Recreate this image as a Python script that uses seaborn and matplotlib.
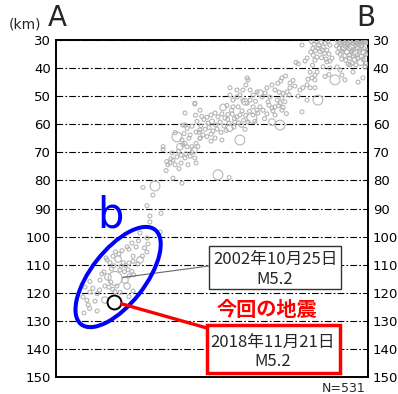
import matplotlib
matplotlib.use("Agg")
import matplotlib.pyplot as plt
import pandas as pd
import seaborn as sns
from matplotlib.patches import Ellipse, Rectangle
from matplotlib.transforms import ScaledTranslation

# Hypocentres projected on the A-B cross-section: distance along the line (km),
# depth (km) and magnitude.
dist_km = [
    # dense cluster near B, shallow end
    93.8, 94.6, 95.4, 96.2, 96.9, 97.5, 98.2, 98.9, 99.6, 100.3,
    101.0, 101.7, 102.4, 103.1, 103.8, 99.0, 102.0,
    93.5, 94.3, 95.1, 95.8, 96.5, 97.2, 97.8, 98.5, 99.2, 99.9,
    100.6, 101.3, 101.9, 102.6, 103.3, 103.9, 100.9, 96.0,
    93.9, 94.7, 95.5, 96.3, 97.0, 97.7, 98.4, 99.1, 99.7, 100.4,
    101.1, 101.8, 102.5, 103.2, 103.8, 98.8,
    95.2, 96.6, 97.8, 98.7, 99.5, 100.6, 101.5, 102.4, 103.3, 103.9,
    97.4, 100.0,
    93.7, 94.7, 95.3, 96.3, 98.0, 99.0, 100.7, 102.3, 103.0, 93.0,
    # second cluster
    85.2, 86.0, 86.8, 87.6, 88.3, 89.1, 89.8, 90.6, 91.3, 85.6,
    86.5, 87.3, 88.0, 88.8, 89.5, 90.3, 91.0, 85.8, 87.0, 88.5,
    90.0, 91.3, 92.0, 86.3, 84.9,
    # scattered events 80-92 km
    82.0, 80.0, 83.7, 83.0, 84.7, 85.3, 84.0, 86.3, 86.3, 87.0,
    83.7, 82.3, 84.7, 86.3, 81.3, 83.7, 87.3, 82.0, 80.7, 89.7,
    91.0, 91.3, 90.3, 89.0, 85.5,
    # band 55-80 km
    75.3, 76.5, 74.9, 73.9, 78.0, 79.0, 78.0, 77.0, 75.7, 77.7,
    75.3, 76.3, 74.7, 75.7, 75.3, 73.7, 73.0, 72.0, 70.7, 71.3,
    73.0, 72.0, 70.3, 69.7, 68.7, 68.0, 67.0, 65.7, 64.7, 64.0,
    63.7, 62.3, 61.3, 60.3, 59.0, 58.0, 59.0, 60.7, 62.3, 63.7,
    64.7, 65.7, 67.0, 68.0, 69.0, 67.3, 65.7, 64.5, 63.2, 62.0,
    61.3, 60.3, 65.3, 66.3, 64.0, 72.0, 74.7, 73.0, 72.3, 74.2,
    61.3, 54.0, 57.7, 80.7, 63.3, 79.6, 74.4, 60.3, 58.0, 63.0,
    70.3, 76.8, 58.8, 59.6, 61.8, 63.0, 69.5, 71.0, 66.5, 57.2,
    # cluster 45-60 km
    48.0, 49.3, 50.3, 51.7, 53.0, 54.0, 55.3, 56.3, 57.3, 48.6,
    50.7, 52.0, 53.3, 54.7, 56.0, 57.7, 48.3, 49.7, 51.0, 52.3,
    53.7, 55.0, 56.7, 47.7, 49.0, 50.3, 51.7, 53.0, 55.3, 51.7,
    48.0, 46.3, 47.0, 55.7, 57.0, 58.5, 59.5, 60.8, 62.5, 57.9,
    59.3, 46.5, 43.0,
    # 35-48 km
    43.0, 45.3, 43.7, 44.7, 46.7, 40.3, 42.0, 43.0, 41.3, 43.7,
    45.3, 46.7, 45.3, 43.3, 41.7, 43.0, 44.7, 46.3, 46.0, 40.3,
    39.0, 38.0, 38.3, 35.7, 35.7, 36.9, 37.3, 39.7, 41.7, 44.0,
    46.7, 48.0, 48.0, 39.0, 42.0, 36.7, 42.3, 44.3, 40.8, 42.7,
    47.3, 38.7, 41.0, 46.3, 42.3, 39.7,
    # 25-35 km
    29.0, 33.0, 32.3, 30.3, 31.3, 31.3, 35.0, 34.7, 28.0, 30.3,
    30.7, 25.3,
    # deep group (region b)
    23.7, 22.0, 21.0, 19.8, 19.0, 17.0, 22.4, 18.0, 19.3, 16.7,
    18.5, 20.7, 21.7, 23.2, 24.3, 25.7, 27.3, 28.0, 28.8, 25.7,
    30.3, 26.7, 24.3, 24.0, 25.3, 25.9, 22.8, 24.4, 21.3, 23.0,
    23.7, 17.3, 18.3, 15.3, 14.7, 16.3, 17.6, 18.9, 20.3, 19.7,
    21.4, 16.3, 11.3, 9.7, 12.3, 11.3, 13.7, 14.5, 9.0, 10.3,
    10.7, 13.0, 9.3, 13.7, 11.2, 24.3, 25.7, 16.0, 27.5, 29.5,
]

depth_km = [
    30.2, 30.9, 30.3, 31.0, 30.1, 30.7, 30.4, 31.2, 30.2, 30.8,
    30.3, 31.1, 30.5, 30.9, 30.2, 30.0, 29.9,
    32.1, 32.8, 31.7, 33.2, 32.3, 31.8, 33.0, 32.1, 33.4, 31.9,
    32.7, 33.3, 32.0, 33.1, 32.4, 33.6, 31.6, 32.6,
    34.4, 35.1, 34.0, 35.6, 34.3, 35.4, 34.1, 35.7, 34.6, 35.3,
    34.0, 35.8, 34.5, 35.2, 34.2, 33.9,
    36.8, 37.3, 36.5, 38.2, 37.0, 36.6, 37.9, 36.9, 38.4, 37.2,
    38.6, 38.9,
    39.6, 40.7, 42.5, 44.2, 38.9, 41.4, 45.0, 43.5, 39.6, 44.2,
    30.6, 31.5, 30.3, 31.9, 30.8, 32.5, 31.2, 30.5, 31.8, 33.0,
    33.8, 32.9, 34.2, 33.5, 34.8, 33.6, 35.0, 35.5, 36.1, 36.3,
    36.8, 37.5, 36.5, 37.2, 34.3,
    31.8, 38.0, 36.4, 37.5, 41.4, 43.5, 44.0, 42.5, 44.2, 41.4,
    46.0, 47.0, 47.0, 47.0, 47.8, 51.4, 51.4, 55.6, 50.0, 43.0,
    42.3, 40.0, 37.8, 39.5, 39.0,
    43.5, 42.8, 44.6, 45.4, 45.3, 44.4, 47.0, 48.5, 49.0, 49.6,
    50.7, 52.0, 52.5, 54.0, 55.0, 51.4, 53.8, 54.2, 52.0, 50.3,
    47.8, 46.0, 47.0, 48.9, 50.3, 48.9, 48.5, 49.6, 47.8, 44.2,
    43.5, 47.8, 49.6, 50.3, 51.4, 47.0, 53.8, 53.8, 51.4, 52.5,
    51.4, 53.8, 55.0, 53.8, 55.0, 56.0, 56.7, 55.4, 56.8, 55.2,
    56.7, 57.4, 57.8, 59.0, 59.2, 59.2, 60.3, 56.7, 55.2, 53.4,
    65.6, 78.0, 79.0, 38.5, 46.0, 46.4, 48.6, 47.8, 49.6, 52.0,
    56.3, 56.2, 56.4, 59.2, 60.4, 61.8, 58.0, 53.2, 51.8, 58.3,
    55.0, 58.3, 57.5, 56.7, 56.0, 57.4, 56.3, 57.8, 56.5, 57.2,
    59.6, 59.0, 60.3, 59.2, 60.6, 59.7, 60.5, 61.8, 61.2, 62.4,
    61.7, 62.9, 62.2, 62.9, 63.8, 64.4, 63.5, 64.9, 65.6, 66.0,
    65.0, 52.5, 59.0, 54.0, 53.3, 55.0, 58.0, 59.5, 58.6, 61.4,
    61.0, 56.8, 56.0,
    60.3, 60.7, 61.5, 63.8, 62.8, 64.5, 65.6, 66.8, 68.0, 68.0,
    68.0, 66.8, 70.0, 70.5, 71.0, 72.0, 71.4, 72.0, 69.3, 71.6,
    72.8, 73.8, 72.3, 68.0, 69.0, 73.3, 74.4, 74.4, 73.8, 74.4,
    73.8, 62.0, 65.0, 79.2, 81.0, 76.5, 67.3, 65.0, 69.6, 63.3,
    67.9, 70.2, 75.8, 52.8, 60.3, 63.0,
    82.5, 82.0, 85.2, 89.0, 92.7, 94.8, 91.7, 98.4, 98.7, 100.5,
    102.6, 102.3,
    103.7, 105.0, 106.2, 105.4, 107.0, 108.3, 109.3, 109.3, 110.4, 107.6,
    111.5, 108.0, 110.6, 110.3, 109.4, 108.8, 109.7, 108.3, 106.9, 107.0,
    105.5, 103.7, 104.5, 111.8, 112.4, 113.6, 112.5, 114.0, 111.9, 115.5,
    117.6, 114.4, 116.2, 113.3, 115.5, 117.6, 118.0, 118.8, 117.6, 119.6,
    119.9, 122.6, 116.0, 118.0, 118.4, 119.8, 120.3, 119.0, 121.5, 122.7,
    124.3, 123.0, 127.2, 126.5, 125.6, 121.4, 119.4, 112.6, 101.5, 104.0,
]

magnitude = [
    2, 2, 2.5, 2, 2, 3, 2, 2, 2.5, 2,
    3, 2, 2, 2.5, 2, 3.5, 3,
    2, 2, 2, 2.5, 2, 2, 2, 3, 2, 2,
    2.5, 2, 2, 2, 3, 2, 2, 3,
    2, 2, 2, 2, 2.5, 2, 2, 2, 3, 2,
    2, 2, 2.5, 2, 2, 2,
    2, 2, 2, 2, 2.5, 2, 3, 2, 2, 3.5,
    2, 2,
    2, 2, 2, 2, 2, 2, 2, 2, 2, 3.5,
    2, 2, 2.5, 2, 2, 2, 2, 2, 2, 2,
    2, 2, 2, 2, 2, 2, 2, 2, 2, 2,
    2, 2, 2, 2, 2,
    2, 2, 2, 2, 2, 2, 2, 2, 2, 2,
    2, 2, 2, 2, 2, 2, 3.5, 2, 2, 2,
    2, 2, 2, 2, 2,
    2, 2, 2, 2, 2, 2, 2, 2, 2, 2,
    2, 2, 2, 2, 2, 2, 2, 2, 2, 2,
    2, 2, 2, 2, 2, 3, 2, 2, 2, 2,
    2, 2, 2, 2, 2, 2, 2, 2, 2, 2,
    2, 2, 2, 2, 2, 2, 2, 2, 2, 2,
    2, 2, 3.5, 2, 2, 3, 3.5, 2, 2, 2,
    3.5, 3.5, 2, 2, 2, 2, 2, 2, 2, 3,
    2, 2, 2, 2, 2, 2, 2, 2, 2, 2,
    2, 2, 2, 2, 2, 2, 2, 2, 2, 2,
    2, 2.5, 2, 2, 2, 2, 2, 2, 2, 2,
    2, 2, 2, 2, 2, 2, 2, 2, 2, 2,
    2, 2, 2, 3, 2, 2, 2, 2, 2, 3,
    2, 2, 2,
    2, 2, 2, 2, 2, 3.5, 2, 2, 3, 2,
    2, 2, 2, 2, 2, 2, 2, 2, 3, 2,
    2, 2, 2, 2, 2, 2, 2, 2, 2, 2,
    2, 2, 2, 2, 2, 2, 2, 2, 2, 2,
    2, 2, 2, 2, 2, 2,
    2, 3.5, 2, 2, 2, 2, 2, 2, 2, 2,
    2, 2,
    2, 2, 2, 2, 2, 2, 2, 2, 2, 2,
    2, 3, 2, 2, 2, 2, 2, 3, 2, 2,
    2, 2, 2, 2, 2, 2, 2, 2, 2, 3,
    3, 3, 2, 2, 2, 2, 2, 2, 2, 2,
    2, 3, 2, 2, 2, 2, 2, 2, 2, 2,
    2, 2, 2, 2, 2, 2, 2, 2, 2, 2,
]

# Highlighted events
EQ2002_DIST, EQ2002_DEPTH, EQ2002_MAG = 19.7, 114.9, 5.2
EQ2002_DATE = "2002年10月25日"
EQ2018_DIST, EQ2018_DEPTH, EQ2018_MAG = 19.4, 123.2, 5.2
EQ2018_DATE = "2018年11月21日"
N_EVENTS = 531

depth_ticks = list(range(30, 151, 10))

# marker area (pt^2) per magnitude class
SIZE_BY_MAG = {2.0: 8, 2.5: 12, 3.0: 22, 3.5: 50, 5.2: 100}

sns.set_theme(style="white")
plt.rcParams["font.family"] = ["DejaVu Sans"]
JP = ["Noto Sans CJK JP", "DejaVu Sans"]

W, H = 398, 394
fig = plt.figure(figsize=(W / 100, H / 100), dpi=100)
ax = fig.add_axes([56 / W, 17 / H, 312 / W, 337 / H])


def fx(px):
    return px / W


def fy(py):
    return 1 - py / H


events = pd.DataFrame({
    "dist": dist_km + [EQ2002_DIST],
    "depth": depth_km + [EQ2002_DEPTH],
    "mag": [float(m) for m in magnitude] + [EQ2002_MAG],
})

sns.scatterplot(data=events, x="dist", y="depth", size="mag",
                sizes=SIZE_BY_MAG, color="#b2b2b2", facecolor="none",
                edgecolor="#b2b2b2", linewidth=0.75, legend=False,
                ax=ax, zorder=3)

sns.scatterplot(x=[EQ2018_DIST], y=[EQ2018_DEPTH],
                s=SIZE_BY_MAG[EQ2018_MAG], color="white", edgecolor="black",
                linewidth=1.4, legend=False, ax=ax, zorder=6)

ax.set_xlim(0, 104)
ax.set_ylim(150, 30)
ax.set_xticks([])
ax.set_yticks(depth_ticks)
ax.set_xlabel("")
ax.set_ylabel("")
ax.yaxis.grid(True, color="black", linewidth=0.8, linestyle=(0, (6, 2, 1.5, 2)))
ax.xaxis.grid(False)
ax.set_axisbelow(True)
ax.tick_params(axis="y", left=True, right=True, labelleft=True,
               labelright=True, length=0, pad=3.5, labelsize=9.5,
               labelcolor="black")
for sp in ax.spines.values():
    sp.set_color("black")
    sp.set_linewidth(1.4)
    sp.set_visible(True)

# region b outline
ell_tr = fig.dpi_scale_trans + ScaledTranslation(20.7, 114.4, ax.transData)
ax.add_patch(Ellipse((0, 0), 1.20, 0.54, angle=52, transform=ell_tr,
                     fill=False, edgecolor="#0000ff", linewidth=2.9, zorder=5))
fig.text(fx(110), fy(227), "b", color="#0000ff", fontsize=30,
         ha="center", va="baseline")

# leader lines
ax.annotate("", xy=(EQ2002_DIST, EQ2002_DEPTH), xycoords="data",
            xytext=(fx(209), fy(266)), textcoords="figure fraction",
            arrowprops=dict(arrowstyle="-", color="#666666", lw=0.8,
                            shrinkA=0, shrinkB=5.5), zorder=4)
ax.annotate("", xy=(EQ2018_DIST, EQ2018_DEPTH), xycoords="data",
            xytext=(fx(207), fy(328)), textcoords="figure fraction",
            arrowprops=dict(arrowstyle="-", color="#ff0000", lw=2.4,
                            shrinkA=0, shrinkB=5.5), zorder=7)

# label boxes
fig.add_artist(Rectangle((fx(209), fy(289)), (341 - 209) / W, (289 - 246) / H,
                         transform=fig.transFigure, facecolor="white",
                         edgecolor="#333333", linewidth=1.0, zorder=2))
fig.text(fx(275), fy(259), EQ2002_DATE, ha="center", va="center",
         fontsize=12, family=JP, zorder=3)
fig.text(fx(275), fy(280), f"M{EQ2002_MAG}", ha="center", va="center",
         fontsize=12, family=JP, zorder=3)

fig.text(fx(267), fy(309), "今回の地震", ha="center", va="center",
         fontsize=14.5, fontweight="bold", color="#ff0000", family=JP, zorder=3)

fig.add_artist(Rectangle((fx(207), fy(373)), (340 - 207) / W, (373 - 325) / H,
                         transform=fig.transFigure, facecolor="white",
                         edgecolor="#ff0000", linewidth=2.5, zorder=2))
fig.text(fx(273), fy(342), EQ2018_DATE, ha="center", va="center",
         fontsize=12, family=JP, zorder=3)
fig.text(fx(273), fy(362), f"M{EQ2018_MAG}", ha="center", va="center",
         fontsize=12, family=JP, zorder=3)

# axis annotations
fig.text(fx(25), fy(25), "(km)", ha="center", va="center", fontsize=10)
fig.text(fx(57.5), fy(18), "A", ha="center", va="center", fontsize=20)
fig.text(fx(366), fy(18), "B", ha="center", va="center", fontsize=20)
fig.text(fx(344), fy(388), f"N={N_EVENTS}", ha="center", va="center", fontsize=9)

fig.savefig("out.png", dpi=100)
